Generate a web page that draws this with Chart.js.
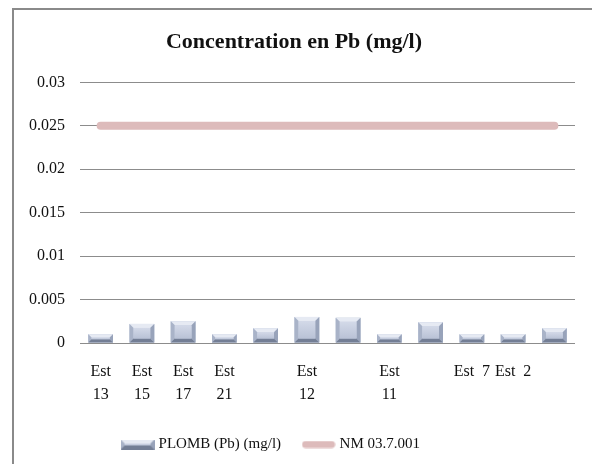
<!DOCTYPE html>
<html>
<head>
<meta charset="utf-8">
<script src="https://cdn.jsdelivr.net/npm/chart.js@4/dist/chart.umd.min.js"></script>
<style>
html,body{margin:0;padding:0;background:#fff;}
#wrap{position:absolute;left:0;top:0;width:592px;height:464px;}
</style>
</head>
<body>
<div id="wrap"><canvas id="c" width="592" height="464"></canvas></div>
<script>
const categories = [["Est","13"],["Est","15"],["Est","17"],["Est","21"],"",["Est","12"],"",["Est","11"],"","Est  7","Est  2",""];
const plombValues = [0.001, 0.0022, 0.0025, 0.001, 0.0017, 0.003, 0.0029, 0.001, 0.0024, 0.001, 0.001, 0.0017];
const normeValues = [0.025, 0.025, 0.025, 0.025, 0.025, 0.025, 0.025, 0.025, 0.025, 0.025, 0.025, 0.025];
const yTicks = [0, 0.005, 0.01, 0.015, 0.02, 0.025, 0.03];
const seriesNames = ["PLOMB (Pb) (mg/l)", "NM 03.7.001"];
const titleText = "Concentration en Pb (mg/l)";

const FONT = "'Liberation Serif', 'DejaVu Serif', serif";
const FACE = '#c6cee0';
const TOPC = '#e6eaf3';
const LEFTC = '#a9b3c8';
const RIGHTC = '#98a3ba';
const BOTC = '#737e95';
const PINK = 'rgb(221,187,187)';

function drawBevel(ctx, l, t, r, b) {
  const h = b - t, w = r - l;
  const bv = Math.max(1, Math.min(4, h / 2.5, w / 4));
  ctx.fillStyle = FACE; ctx.fillRect(l, t, w, h);
  ctx.fillStyle = TOPC;
  ctx.beginPath(); ctx.moveTo(l, t); ctx.lineTo(r, t); ctx.lineTo(r - bv, t + bv); ctx.lineTo(l + bv, t + bv); ctx.closePath(); ctx.fill();
  ctx.fillStyle = LEFTC;
  ctx.beginPath(); ctx.moveTo(l, t); ctx.lineTo(l + bv, t + bv); ctx.lineTo(l + bv, b - bv); ctx.lineTo(l, b); ctx.closePath(); ctx.fill();
  ctx.fillStyle = RIGHTC;
  ctx.beginPath(); ctx.moveTo(r, t); ctx.lineTo(r - bv, t + bv); ctx.lineTo(r - bv, b - bv); ctx.lineTo(r, b); ctx.closePath(); ctx.fill();
  ctx.fillStyle = BOTC;
  ctx.beginPath(); ctx.moveTo(l, b); ctx.lineTo(l + bv, b - bv); ctx.lineTo(r - bv, b - bv); ctx.lineTo(r, b); ctx.closePath(); ctx.fill();
  const g = ctx.createLinearGradient(0, t + bv, 0, b - bv);
  g.addColorStop(0, '#d3d9e8'); g.addColorStop(1, '#b9c2d6');
  ctx.fillStyle = g; ctx.fillRect(l + bv, t + bv, w - 2 * bv, Math.max(0, h - 2 * bv));
}

const barIcon = document.createElement('canvas');
barIcon.width = 34; barIcon.height = 10;
drawBevel(barIcon.getContext('2d'), 0, 0, 34, 10);
const lineIcon = document.createElement('canvas');
lineIcon.width = 34; lineIcon.height = 8;
(function(){ const c = lineIcon.getContext('2d'); c.strokeStyle = PINK; c.lineWidth = 7; c.lineCap = 'round'; c.beginPath(); c.moveTo(4, 4); c.lineTo(30, 4); c.stroke(); })();

const bevelPlugin = {
  id: 'bevel',
  afterDatasetDraw(chart, args) {
    if (args.index !== 0) return;
    const ctx = chart.ctx;
    ctx.save();
    args.meta.data.forEach(el => {
      const p = el.getProps(['x', 'y', 'width', 'base'], true);
      drawBevel(ctx, p.x - p.width / 2, p.y, p.x + p.width / 2, p.base);
    });
    ctx.restore();
  }
};
const framePlugin = {
  id: 'frame',
  beforeDraw(chart) {
    const ctx = chart.ctx;
    ctx.save();
    ctx.fillStyle = '#fff'; ctx.fillRect(0, 0, chart.width, chart.height);
    ctx.strokeStyle = '#8a8a8a'; ctx.lineWidth = 2;
    ctx.beginPath(); ctx.moveTo(13, chart.height); ctx.lineTo(13, 9); ctx.lineTo(chart.width, 9); ctx.stroke();
    ctx.restore();
  }
};
const legendShift = {
  id: 'legendShift',
  afterLayout(chart) {
    const lg = chart.legend;
    if (lg) { lg.left -= 22; lg.right -= 22; }
  }
};

new Chart(document.getElementById('c'), {
  type: 'bar',
  data: {
    labels: categories,
    datasets: [
      { type: 'bar', label: seriesNames[0], data: plombValues, backgroundColor: FACE, borderWidth: 0,
        barPercentage: 0.6, categoryPercentage: 1, pointStyle: barIcon },
      { type: 'line', label: seriesNames[1], data: normeValues, borderColor: PINK, backgroundColor: PINK,
        borderWidth: 8, borderCapStyle: 'round', pointRadius: 0, pointStyle: lineIcon }
    ]
  },
  options: {
    responsive: false,
    animation: false,
    devicePixelRatio: 1,
    layout: { padding: { left: 13, top: 9, right: 17, bottom: 2 } },
    plugins: {
      title: { display: true, text: titleText, color: '#111',
        font: { family: FONT, size: 22, weight: 'bold', lineHeight: 1.2 },
        padding: { top: 20, bottom: 27 } },
      legend: { position: 'bottom',
        labels: { usePointStyle: true, pointStyleWidth: 27, boxHeight: 10, padding: 24, color: '#111',
          font: { family: FONT, size: 15 },
          sort: (a, b) => a.datasetIndex - b.datasetIndex } },
      tooltip: { enabled: false }
    },
    scales: {
      x: {
        grid: { display: false }, border: { display: false },
        ticks: { autoSkip: false, maxRotation: 0, minRotation: 0, padding: 10, color: '#111',
          font: { family: FONT, size: 16, lineHeight: 1.4 } },
        afterFit(s) { s.height = 70; }
      },
      y: {
        min: 0, max: 0.03,
        afterBuildTicks(s) { s.ticks = yTicks.map(v => ({ value: v })); },
        grid: { color: '#8c8c8c', lineWidth: 1, drawTicks: false },
        border: { display: false },
        ticks: { padding: 15, color: '#111', font: { family: FONT, size: 16 },
          callback: v => String(Number(v.toFixed(3))) },
        afterFit(s) { s.width = 67; }
      }
    }
  },
  plugins: [framePlugin, bevelPlugin, legendShift]
});
</script>
</body>
</html>
